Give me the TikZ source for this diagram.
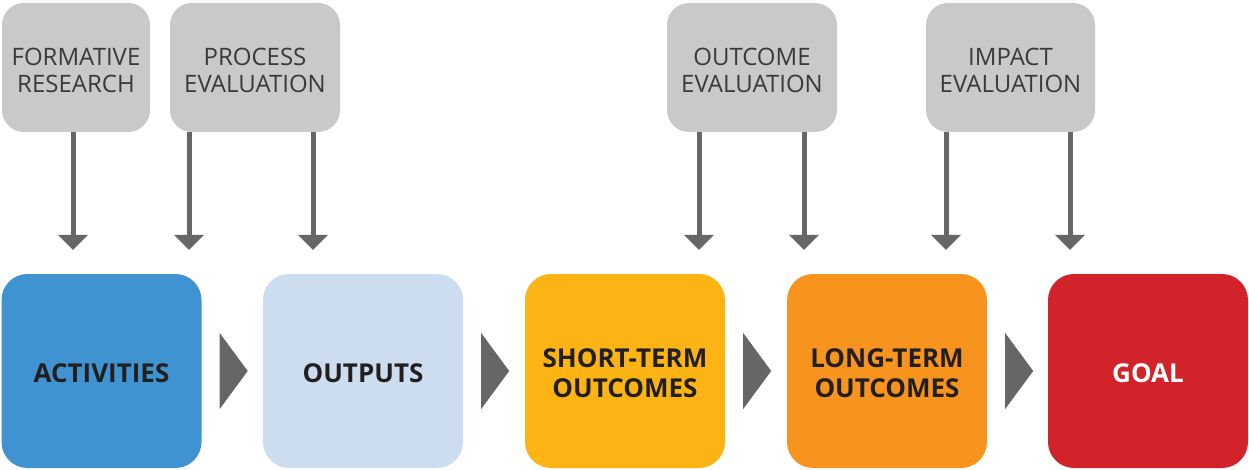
\documentclass[tikz,border=0pt]{standalone}
\usepackage{fontspec}
\setmainfont{Open Sans}
\usetikzlibrary{arrows.meta,calc}
\definecolor{boxgray}{HTML}{C8C9CB}
\definecolor{arrgray}{HTML}{666666}
\definecolor{cblue}{HTML}{3F93D0}
\definecolor{clight}{HTML}{CCDDF0}
\definecolor{cyellow}{HTML}{FBB414}
\definecolor{corange}{HTML}{F7941E}
\definecolor{cred}{HTML}{D2232A}
\definecolor{tdark}{HTML}{231F20}
\definecolor{tgray}{HTML}{3A3A3A}
\begin{document}
\begin{tikzpicture}[x=1pt,y=-1pt,
  evalbox/.style={fill=boxgray,rounded corners=22pt,minimum height=129pt,inner sep=0pt,align=center,
    text=tgray,font=\fontsize{24}{27}\selectfont},
  stagebox/.style={rounded corners=26pt,minimum width=200pt,minimum height=194pt,inner sep=0pt,align=center,
    font=\fontsize{26}{30}\selectfont\bfseries},
  arr/.style={draw=arrgray,line width=5pt,-{Triangle[width=29pt,length=15pt]}},
  tri/.style={fill=arrgray}
]
\useasboundingbox (0,0) rectangle (1249,470);
% evaluation boxes
\node[evalbox,minimum width=148pt] (fr) at (76,67.5) {};
\node[evalbox,minimum width=170pt] (pe) at (255,67.5) {};
\node[evalbox,minimum width=170pt] (oe) at (752,67.5) {};
\node[evalbox,minimum width=169pt] (ie) at (1010.5,67.5) {};
\node[evalbox,fill=none,minimum height=0pt] (frt) at (76,70) {FORMATIVE\\RESEARCH};
\node[evalbox,fill=none,minimum height=0pt] (pet) at (255,70) {PROCESS\\EVALUATION};
\node[evalbox,fill=none,minimum height=0pt] (oet) at (752,70) {OUTCOME\\EVALUATION};
\node[evalbox,fill=none,minimum height=0pt] (iet) at (1010.5,70) {IMPACT\\EVALUATION};
% stage boxes
\node[stagebox,fill=cblue] (act) at (101.5,371) {};
\node[stagebox,fill=clight] (out) at (363,371) {};
\node[stagebox,fill=cyellow] (sto) at (625,371) {};
\node[stagebox,fill=corange] (lto) at (887,371) {};
\node[stagebox,fill=cred] (goal) at (1148,371) {};
\node[stagebox,minimum height=0pt,text=tdark] (actt) at (101.5,373) {ACTIVITIES};
\node[stagebox,minimum height=0pt,text=tdark] (outt) at (363,373) {OUTPUTS};
\node[stagebox,minimum height=0pt,text=tdark] (stot) at (625,373) {SHORT-TERM\\OUTCOMES};
\node[stagebox,minimum height=0pt,text=tdark] (ltot) at (887,373) {LONG-TERM\\OUTCOMES};
\node[stagebox,minimum height=0pt,text=white] (goalt) at (1148,373) {GOAL};
% arrow end points
\foreach \n/\x in {a1/73,a2/189,a3/313,a4/699,a5/804,a6/946,a7/1070}{
  \coordinate (\n) at (\x,250);
}
\draw[arr] (fr.south -| a1) -- (a1);
\draw[arr] (pe.south -| a2) -- (a2);
\draw[arr] (pe.south -| a3) -- (a3);
\draw[arr] (oe.south -| a4) -- (a4);
\draw[arr] (oe.south -| a5) -- (a5);
\draw[arr] (ie.south -| a6) -- (a6);
\draw[arr] (ie.south -| a7) -- (a7);
% chevrons between stages
\foreach \n in {act,out,sto,lto}{
  \fill[tri] ($(\n.east)+(18,-38)$) -- ++(28,38) -- ++(-28,38) -- cycle;
}
\end{tikzpicture}
\end{document}
